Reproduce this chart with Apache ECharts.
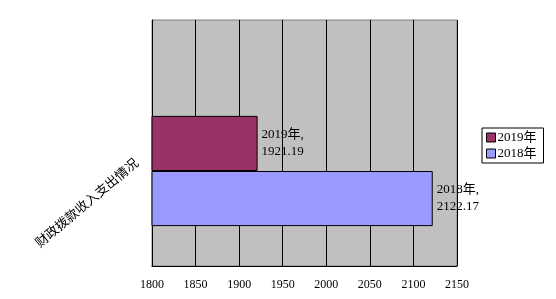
<!DOCTYPE html>
<html><head><meta charset="utf-8">
<script src="https://cdn.jsdelivr.net/npm/echarts@6/dist/echarts.min.js"></script>
<style>html,body{margin:0;padding:0;background:#fff}#c{width:556px;height:299px}</style>
</head><body><div id="c"></div>
<script>
const categories = ['财政拨款收入支出情况'];
const seriesNames = ['2019年', '2018年'];
const values2019 = [1921.19];
const values2018 = [2122.17];
const legendOrder = ['2019年', '2018年'];
const xTicks = [1800, 2150, 50];

const FONT = "'Liberation Serif', 'Noto Sans CJK SC', serif";
const chart = echarts.init(document.getElementById('c'), null, {renderer: 'canvas'});
function lbl(name) {
  return {
    show: true, position: 'right', distance: 4, color: '#000',
    fontFamily: FONT, fontSize: 13, lineHeight: 17, align: 'left',
    formatter: p => name + ',\n' + p.value.toFixed(2)
  };
}
const xBase = {type: 'value', min: xTicks[0], max: xTicks[1], interval: xTicks[2]};
chart.setOption({
  animation: false,
  textStyle: {fontFamily: FONT},
  grid: [
    {left: 152, top: 20, width: 305, height: 246, show: true, backgroundColor: '#c0c0c0', borderColor: '#808080', borderWidth: 1},
    {left: 152, top: 76, width: 305, height: 190}
  ],
  legend: {
    data: legendOrder, orient: 'vertical', left: 482, top: 128,
    itemWidth: 9, itemHeight: 9, itemGap: 3, padding: [3, 7, 3, 4],
    borderColor: '#000', borderWidth: 1, icon: 'rect',
    textStyle: {fontFamily: FONT, fontSize: 13, color: '#000', padding: [0, 0, 0, -3]},
    itemStyle: {borderColor: '#000', borderWidth: 1}
  },
  xAxis: [
    Object.assign({}, xBase, {gridIndex: 0,
      axisLine: {show: true, lineStyle: {color: '#000'}},
      axisTick: {show: false},
      splitLine: {show: true, lineStyle: {color: '#000', width: 1}},
      axisLabel: {color: '#000', fontSize: 12, margin: 13, fontFamily: FONT, formatter: v => String(v)}
    }),
    Object.assign({}, xBase, {gridIndex: 1, show: false, splitLine: {show: false}})
  ],
  yAxis: [
    {type: 'category', gridIndex: 0, data: [''],
     axisLine: {show: true, lineStyle: {color: '#000'}}, axisTick: {show: false}, axisLabel: {show: false}},
    {type: 'category', gridIndex: 1, data: categories,
     axisLine: {show: false}, axisTick: {show: false},
     axisLabel: {color: '#000', fontSize: 13, rotate: 40, margin: 7, padding: [0, 0, 7, 0], fontFamily: "'Noto Sans CJK SC', sans-serif", verticalAlign: 'bottom'}}
  ],
  series: [
    {name: seriesNames[0], type: 'bar', xAxisIndex: 1, yAxisIndex: 1, data: values2019, barGap: '0%', barCategoryGap: '42%',
     itemStyle: {color: '#993366', borderColor: '#000', borderWidth: 1}, label: lbl(seriesNames[0])},
    {name: seriesNames[1], type: 'bar', xAxisIndex: 1, yAxisIndex: 1, data: values2018, barGap: '0%', barCategoryGap: '42%',
     itemStyle: {color: '#9999ff', borderColor: '#000', borderWidth: 1}, label: lbl(seriesNames[1])}
  ]
});
</script></body></html>
